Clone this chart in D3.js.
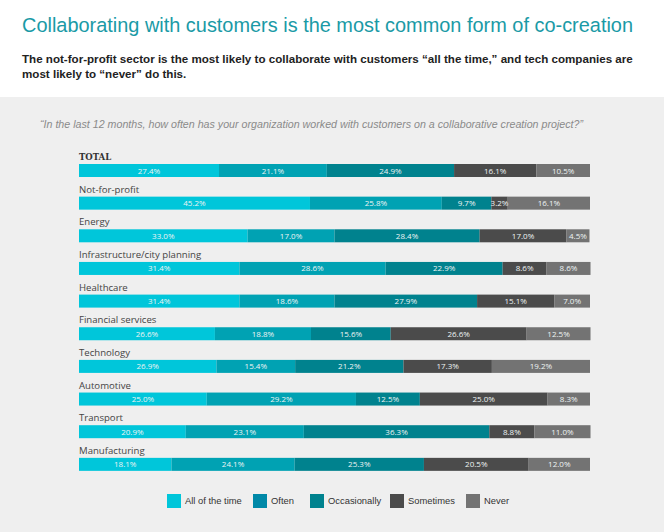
<!DOCTYPE html>
<html>
<head>
<meta charset="utf-8">
<script src="https://cdn.jsdelivr.net/npm/d3@7"></script>
<style>
html,body{margin:0;padding:0;background:#fff;}
svg{display:block;}
</style>
</head>
<body>
<script>
const categories = ["TOTAL","Not-for-profit","Energy","Infrastructure/city planning","Healthcare","Financial services","Technology","Automotive","Transport","Manufacturing"];
const seriesNames = ["All of the time","Often","Occasionally","Sometimes","Never"];
const allOfTheTime = [27.4,45.2,33.0,31.4,31.4,26.6,26.9,25.0,20.9,18.1];
const often        = [21.1,25.8,17.0,28.6,18.6,18.8,15.4,29.2,23.1,24.1];
const occasionally = [24.9,9.7,28.4,22.9,27.9,15.6,21.2,12.5,36.3,25.3];
const sometimes    = [16.1,3.2,17.0,8.6,15.1,26.6,17.3,25.0,8.8,20.5];
const never        = [10.5,16.1,4.5,8.6,7.0,12.5,19.2,8.3,11.0,12.0];
const series = [allOfTheTime, often, occasionally, sometimes, never];
const barColors = ["#00c6da","#00a2b3","#00828e","#4b4b4b","#737373"];
const legendColors = ["#00c6da","#0089a8","#00828e","#4b4b4b","#737373"];

const W = 664, H = 532;
const svg = d3.select("body").append("svg").attr("width", W).attr("height", H);

svg.append("rect").attr("x",0).attr("y",97).attr("width",W).attr("height",H-97).attr("fill","#efefef");

svg.append("text").attr("x",22).attr("y",32)
  .attr("font-family","Liberation Sans, Arial, sans-serif").attr("font-size",20.5)
  .attr("textLength",611).attr("lengthAdjust","spacingAndGlyphs")
  .attr("fill","#1a9aa6").text("Collaborating with customers is the most common form of co-creation");

const sub = svg.append("text").attr("font-family","Liberation Sans, Arial, sans-serif")
  .attr("font-size",11.6).attr("font-weight","bold").attr("fill","#222");
sub.append("tspan").attr("x",22).attr("y",63).text("The not-for-profit sector is the most likely to collaborate with customers \u201call the time,\u201d and tech companies are");
sub.append("tspan").attr("x",22).attr("y",78).text("most likely to \u201cnever\u201d do this.");

svg.append("text").attr("x",40).attr("y",128)
  .attr("font-family","Liberation Sans, Arial, sans-serif").attr("font-size",10.6)
  .attr("textLength",543).attr("lengthAdjust","spacingAndGlyphs")
  .attr("font-style","italic").attr("fill","#8a8a8a")
  .text("\u201cIn the last 12 months, how often has your organization worked with customers on a collaborative creation project?\u201d");

const x = d3.scaleLinear().domain([0,100]).range([79,590]);
const y = d3.scaleBand().domain(categories).range([164, 164 + 32.65*categories.length]).paddingInner(0).paddingOuter(0);
const barH = 13;

const rows = categories.map((c,i) => {
  let acc = 0;
  return series.map((s,k) => { const d = {cat:c, k, v:s[i], x0:acc, x1:acc+s[i]}; acc += s[i]; return d; });
});

const g = svg.append("g");
categories.forEach((c,i) => {
  const top = y(c);
  g.append("text").attr("x",79).attr("y",top-4)
    .attr("font-family", i===0 ? "DejaVu Serif, serif" : "Open Sans, Noto Sans, sans-serif")
    .attr("font-weight", i===0 ? "bold" : "normal")
    .attr("font-size", i===0 ? 8.5 : 9.6)
    .attr("fill", i===0 ? "#333" : "#444")
    .text(c);
  const rg = g.append("g");
  rg.selectAll("rect").data(rows[i]).join("rect")
    .attr("x", d => x(d.x0)).attr("y", top)
    .attr("width", d => x(d.x1)-x(d.x0)).attr("height", barH)
    .attr("fill", d => barColors[d.k]);
  rg.selectAll("text").data(rows[i]).join("text")
    .attr("x", d => (x(d.x0)+x(d.x1))/2).attr("y", top + barH/2 + 3)
    .attr("text-anchor","middle")
    .attr("font-family","Open Sans, Noto Sans, sans-serif").attr("font-size",8)
    .attr("fill","#eef4f4")
    .text(d => d.v.toFixed(1) + "%");
});

const legX = [167,253,310,390,466];
const lg = svg.append("g");
seriesNames.forEach((n,k) => {
  lg.append("rect").attr("x",legX[k]).attr("y",494).attr("width",14).attr("height",14).attr("fill",legendColors[k]);
  lg.append("text").attr("x",legX[k]+18).attr("y",503.5)
    .attr("font-family","Liberation Sans, Arial, sans-serif").attr("font-size",9.4)
    .attr("fill","#333").text(n);
});
</script>
</body>
</html>
